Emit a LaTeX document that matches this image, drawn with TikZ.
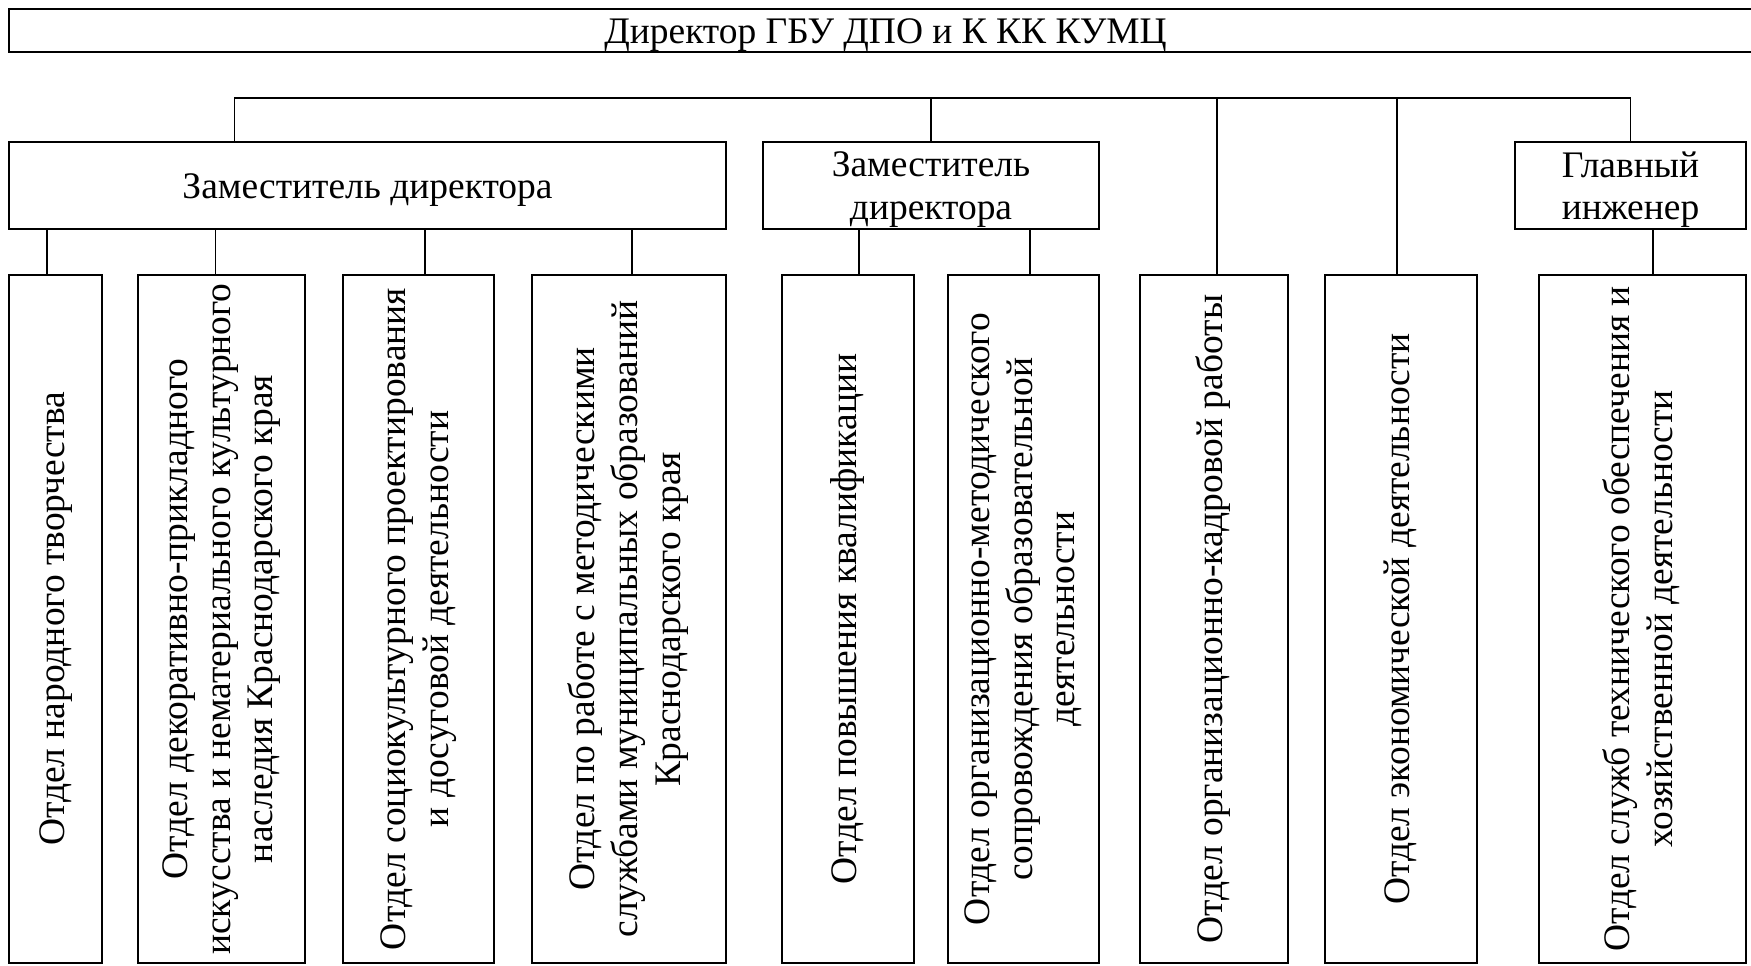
\documentclass[tikz,border=0pt]{standalone}
\usepackage{fontspec}
\setmainfont{Liberation Serif}
\newcommand{\vt}[1]{\rotatebox{90}{\begin{tabular}{@{}c@{}}#1\end{tabular}}}
\begin{document}
\begin{tikzpicture}[x=0.75pt,y=-0.75pt,
  txt/.style={inner sep=0pt, align=center, font=\fontsize{28.1}{32}\selectfont},
  box/.style={draw, line width=1.5pt, inner sep=0pt, txt},
  dept/.style={box, minimum height=516pt},
  head/.style={box, minimum height=65.25pt},
  con/.style={line width=1.1pt}]
\useasboundingbox (0,0) rectangle (1751,965);
\node[box, minimum width=1314.75pt, minimum height=32.25pt] (top) at (885.5,30.5) {};
\node[txt] (topt) at ([yshift=-3.4pt]top.center) {Директор ГБУ ДПО и К КК КУМЦ};
\node[head, minimum width=537.75pt] (zam1) at (367.5,185.5) {};
\node[txt] (zam1t) at ([yshift=-3.2pt]zam1.center) {Заместитель директора};
\node[head, minimum width=252pt] (zam2) at (931,185.5) {};
\node[txt] (zam2t) at ([yshift=-3.2pt]zam2.center) {Заместитель\\директора};
\node[head, minimum width=173.25pt] (glav) at (1630.5,185.5) {};
\node[txt] (glavt) at ([yshift=-3.2pt]glav.center) {Главный\\инженер};
\node[dept, minimum width=69.75pt] (b1) at (55.5,619) {\vt{Отдел народного творчества}};
\node[dept, minimum width=125.25pt] (b2) at (221.5,619) {\vt{Отдел декоративно-прикладного\\искусства и нематериального культурного\\наследия Краснодарского края}};
\node[dept, minimum width=113.25pt] (b3) at (418.5,619) {\vt{Отдел социокультурного проектирования\\и досуговой деятельности}};
\node[dept, minimum width=145.5pt] (b4) at (629,619) {\vt{Отдел по работе с методическими\\службами муниципальных образований\\Краснодарского края}};
\node[dept, minimum width=99pt] (b5) at (848,619) {\vt{Отдел повышения квалификации}};
\node[dept, minimum width=113.25pt] (b6) at (1023.5,619) {\vt{Отдел организационно-методического\\сопровождения образовательной\\деятельности}};
\node[dept, minimum width=111pt] (b7) at (1214,619) {\vt{Отдел организационно-кадровой работы}};
\node[dept, minimum width=114pt] (b8) at (1401,619) {\vt{Отдел экономической деятельности}};
\node[dept, minimum width=155.25pt] (b9) at (1642.5,619) {\vt{Отдел служб технического обеспечения и\\хозяйственной деятельности}};
% bus
\coordinate (bus) at (234.5,98);
\draw[con] (zam1.north -| bus) -- (bus) -- (bus -| glav.north) -- (glav.north);
\draw[con] (zam2.north) -- (zam2.north |- bus);
\draw[con] ([xshift=2.25pt]b7.north) -- ([xshift=2.25pt]b7.north |- bus);
\draw[con] ([xshift=-3pt]b8.north) -- ([xshift=-3pt]b8.north |- bus);
% drops
\draw[con] ([xshift=-6.4pt]b1.north) -- ([xshift=-6.4pt]b1.north |- zam1.south);
\draw[con] ([xshift=-4.5pt]b2.north) -- ([xshift=-4.5pt]b2.north |- zam1.south);
\draw[con] ([xshift=4.9pt]b3.north) -- ([xshift=4.9pt]b3.north |- zam1.south);
\draw[con] ([xshift=2.25pt]b4.north) -- ([xshift=2.25pt]b4.north |- zam1.south);
\draw[con] ([xshift=8.25pt]b5.north) -- ([xshift=8.25pt]b5.north |- zam2.south);
\draw[con] ([xshift=4.9pt]b6.north) -- ([xshift=4.9pt]b6.north |- zam2.south);
\draw[con] ([xshift=7.9pt]b9.north) -- ([xshift=7.9pt]b9.north |- glav.south);
\end{tikzpicture}
\end{document}
